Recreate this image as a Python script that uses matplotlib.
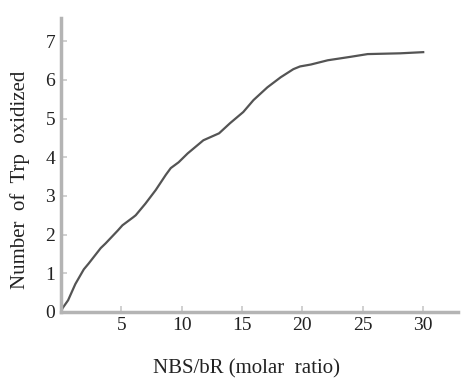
import numpy as np
import matplotlib.pyplot as plt

# values
ratio = [0, 0.15, 0.6, 1.2, 1.9, 2.3, 3.3, 3.7, 4.7, 5.1, 6.0, 6.2, 7.0, 7.85, 8.7, 9.1, 9.75,
         10.5, 11.8, 13.1, 14.0, 15.1, 15.95, 17.1, 18.2, 19.25, 19.8, 20.7, 22.1, 24.0,
         25.4, 28.1, 30.0]
trp = [0, 0.1, 0.3, 0.72, 1.1, 1.25, 1.65, 1.77, 2.1, 2.24, 2.45, 2.5, 2.8, 3.15, 3.55, 3.72, 3.87,
       4.1, 4.44, 4.62, 4.88, 5.17, 5.48, 5.81, 6.07, 6.28, 6.35, 6.4, 6.51, 6.6,
       6.67, 6.69, 6.72]
xticks = [5, 10, 15, 20, 25, 30]
yticks = [1, 2, 3, 4, 5, 6, 7]

plt.rcParams['font.family'] = ['Liberation Serif', 'DejaVu Serif']

fig = plt.figure(figsize=(4.61, 3.78), dpi=100)
ax = fig.add_axes([0.132, 0.175, 0.862, 0.777])

ax.plot(ratio, trp, color='#545454', lw=1.6)

ax.set_xlim(0, 32.9)
ax.set_ylim(0, 7.6)
ax.set_xticks(xticks)
ax.set_yticks(yticks)

for s in ['top', 'right']:
    ax.spines[s].set_visible(False)
for s in ['left', 'bottom']:
    ax.spines[s].set_color('#b4b4b4')
    ax.spines[s].set_linewidth(2.5)

ax.tick_params(direction='in', length=4, width=1.2, color='#c8c8c8',
               labelsize=14, labelcolor='#222222', pad=4)
# the single shared zero at the corner
ax.text(-0.015, -0.005, '0', transform=ax.transAxes, ha='right', va='center',
        fontsize=14, color='#222222')

ax.set_xlabel('NBS/bR (molar  ratio)', fontsize=15, color='#222222')
ax.set_ylabel('Number  of  Trp  oxidized', fontsize=15, color='#222222')
ax.xaxis.set_label_coords(0.466, -0.163)
ax.yaxis.set_label_coords(-0.078, 0.449)

fig.savefig('out.png', dpi=100, facecolor='white')
